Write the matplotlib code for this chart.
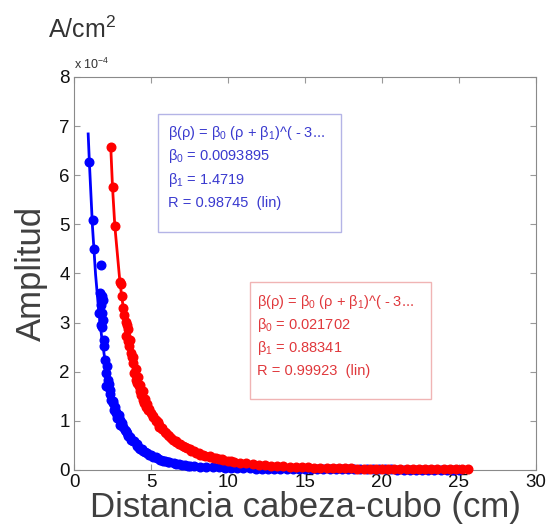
import matplotlib
matplotlib.use("Agg")
import matplotlib.pyplot as plt
from matplotlib.patches import Rectangle

plt.rcParams['font.family'] = ['Liberation Sans', 'DejaVu Sans']
plt.rcParams['mathtext.fontset'] = 'custom'
plt.rcParams['mathtext.rm'] = 'Liberation Sans'
plt.rcParams['mathtext.it'] = 'Liberation Sans:italic'
plt.rcParams['mathtext.default'] = 'regular'

## data (amplitude in units of 1e-4 A/cm^2)
blue_x = [0.99, 1.21, 1.27, 1.78, 1.69, 1.82, 1.86, 1.73, 1.65, 1.82, 1.86, 1.82, 1.76, 1.98,
          1.93, 2.04, 2.13, 2.09, 2.20, 2.09, 2.31, 2.42, 2.50, 2.64, 2.75, 2.85, 2.97, 3.10,
          3.30, 3.45, 3.63, 3.80, 4.07, 4.30, 4.50, 4.73, 5.00, 5.30, 5.60, 5.90, 6.20, 6.50,
          6.80, 7.20, 7.50, 7.80, 8.20, 8.60, 9.00, 9.40, 9.80, 10.2, 10.6, 11.0, 11.4, 11.8,
          12.2, 12.6, 13.0, 13.4, 13.8, 14.2, 14.6, 15.0, 15.4, 15.8, 16.2, 16.6, 17.0, 17.4,
          17.8, 18.2, 18.6, 19.0, 19.4, 19.8, 20.2, 20.6, 21.0, 21.4, 21.8, 22.2, 22.6, 23.0,
          23.4, 23.8, 24.2, 24.6, 25.0,
          2.25, 2.35, 2.55, 2.60, 2.70, 2.80, 2.90, 3.00, 3.20, 3.40, 3.50, 3.70, 3.90, 4.10,
          4.20, 4.40, 4.60, 4.90, 5.10, 5.40, 5.80, 6.10, 6.60, 7.00, 7.40]
blue_y = [6.27, 5.09, 4.50, 4.18, 3.61, 3.55, 3.47, 3.35, 3.20, 3.20, 3.06, 2.92, 2.96, 2.65,
          2.52, 2.24, 2.11, 1.97, 1.84, 1.70, 1.63, 1.43, 1.36, 1.29, 1.16, 1.09, 1.02, 0.95,
          0.82, 0.75, 0.68, 0.60, 0.48, 0.42, 0.38, 0.34, 0.31, 0.26, 0.20, 0.18, 0.16, 0.14,
          0.12, 0.11, 0.09, 0.08, 0.07, 0.065, 0.06, 0.055, 0.05, 0.045, 0.04, 0.04, 0.035, 0.03,
          0.03, 0.03, 0.025, 0.025, 0.02, 0.02, 0.02, 0.02, 0.015, 0.015, 0.015, 0.015, 0.01, 0.01,
          0.01, 0.01, 0.01, 0.01, 0.01, 0.01, 0.01, 0.01, 0.008, 0.008, 0.008, 0.008, 0.006, 0.006,
          0.006, 0.006, 0.005, 0.005, 0.005,
          1.75, 1.55, 1.40, 1.22, 1.18, 1.05, 1.12, 0.92, 0.88, 0.80, 0.70, 0.62, 0.58, 0.52,
          0.45, 0.42, 0.36, 0.30, 0.27, 0.24, 0.19, 0.17, 0.13, 0.10, 0.09]
blue_fit_x = [0.92, 1.0, 1.2, 1.4, 1.6, 1.8, 2.0, 2.3, 2.6, 3.0, 3.5, 4.0, 5.0, 6.0, 7.0, 8.0,
              10.0, 12.0, 15.0, 20.0, 25.0]
blue_fit_y = [6.84, 6.25, 4.95, 3.98, 3.26, 2.70, 2.26, 1.76, 1.40, 1.06, 0.77, 0.58, 0.35, 0.23,
              0.155, 0.11, 0.062, 0.038, 0.021, 0.0095, 0.005]

red_x = [2.40, 2.50, 2.65, 2.98, 3.02, 3.26, 3.37, 3.48, 3.37, 3.51, 3.59, 3.70, 3.76, 3.81,
         3.92, 4.02, 4.10, 4.19, 4.28, 4.35, 4.45, 4.57, 4.68, 4.80, 4.99, 5.14, 5.32, 5.44,
         5.54, 5.74, 5.97, 6.18, 6.41, 6.62, 6.82, 7.06, 7.32, 7.62, 7.91, 8.2, 8.5, 8.8,
         9.1, 9.4, 9.7, 10.0, 10.4, 10.8, 11.2, 11.6, 12.0, 12.4, 12.8, 13.2, 13.6, 14.0,
         14.4, 14.8, 15.2, 15.6, 16.0, 16.4, 16.8, 17.2, 17.6, 18.0, 18.4, 18.8, 19.2, 19.6,
         20.0, 20.4, 20.8, 21.2, 21.6, 22.0, 22.4, 22.8, 23.2, 23.6, 24.0, 24.4, 24.8, 25.2,
         25.6,
         3.10, 3.20, 3.45, 3.65, 3.85, 4.00, 4.15, 4.30, 4.45, 4.60, 4.75, 4.90, 5.10, 5.30,
         5.50, 5.70, 5.90, 6.10, 6.30, 6.60, 6.90, 7.20, 7.50, 7.80, 8.10, 8.40, 8.80, 9.20,
         9.60, 10.2]
red_y = [6.58, 5.76, 4.97, 3.83, 3.78, 3.16, 3.01, 2.86, 2.72, 2.62, 2.52, 2.38, 2.30, 2.18,
         1.97, 1.84, 1.78, 1.70, 1.60, 1.53, 1.43, 1.36, 1.29, 1.22, 1.16, 1.08, 1.02, 0.97,
         0.88, 0.83, 0.75, 0.69, 0.61, 0.57, 0.52, 0.48, 0.44, 0.39, 0.34, 0.31, 0.28, 0.26,
         0.24, 0.22, 0.20, 0.18, 0.17, 0.15, 0.14, 0.12, 0.11, 0.10, 0.09, 0.085, 0.08, 0.07,
         0.065, 0.06, 0.055, 0.05, 0.045, 0.045, 0.04, 0.04, 0.035, 0.035, 0.03, 0.03, 0.03, 0.025,
         0.025, 0.025, 0.02, 0.02, 0.02, 0.03, 0.02, 0.015, 0.015, 0.015, 0.015, 0.012, 0.012, 0.01,
         0.01,
         3.55, 3.30, 2.95, 2.65, 2.30, 2.05, 1.90, 1.72, 1.60, 1.45, 1.35, 1.25, 1.10, 1.00,
         0.92, 0.85, 0.78, 0.72, 0.66, 0.58, 0.52, 0.46, 0.42, 0.38, 0.34, 0.31, 0.28, 0.25,
         0.22, 0.19]
red_fit_x = [2.38, 2.50, 2.65, 2.98, 3.3, 3.6, 4.0, 4.5, 5.0, 5.5, 6.0, 7.0, 8.0, 9.0, 10.0,
             12.0, 14.0, 16.0, 18.0, 20.0, 22.0, 25.6]
red_fit_y = [6.62, 5.76, 4.97, 3.83, 3.05, 2.50, 1.96, 1.48, 1.13, 0.88, 0.70, 0.46, 0.32, 0.23,
             0.17, 0.10, 0.066, 0.045, 0.032, 0.024, 0.018, 0.012]

blue_lines = [r'$\beta(\rho)$ = $\beta_0$ ($\rho$ + $\beta_1$)^( - 3...',
              r'$\beta_0$ = 0.0093895', r'$\beta_1$ = 1.4719', 'R = 0.98745  (lin)']
red_lines = [r'$\beta(\rho)$ = $\beta_0$ ($\rho$ + $\beta_1$)^( - 3...',
             r'$\beta_0$ = 0.021702', r'$\beta_1$ = 0.88341', 'R = 0.99923  (lin)']

fig = plt.figure(figsize=(5.49, 5.31), dpi=100)
ax = fig.add_axes([0.1348, 0.1149, 0.8415, 0.7402])

ax.plot(blue_fit_x, blue_fit_y, color='#0000ff', lw=2, zorder=2)
ax.plot(blue_x, blue_y, 'o', color='#0000ff', ms=6.2, mec='#0000ff', clip_on=False, zorder=3)
ax.plot(red_fit_x, red_fit_y, color='#ff0000', lw=2, zorder=4)
ax.plot(red_x, red_y, 'o', color='#ff0000', ms=6.2, mec='#ff0000', clip_on=False, zorder=5)

ax.set_xlim(0, 30)
ax.set_ylim(0, 8)
ax.set_xticks([0, 5, 10, 15, 20, 25, 30])
ax.set_yticks([0, 1, 2, 3, 4, 5, 6, 7, 8])
ax.tick_params(direction='in', top=True, right=True, length=4, color='#999999',
               labelsize=13.5, labelcolor='#111111', pad=3)
for s in ax.spines.values():
    s.set_color('#8a8a8a')

ax.set_xlabel('Distancia cabeza-cubo (cm)', fontsize=25, color='#404040', labelpad=0)
ax.set_ylabel('Amplitud', fontsize=25, color='#404040', labelpad=8)

fig.text(0.088, 0.943, r'A/cm$^2$', fontsize=18, color='#333333', va='center')
ax.text(0.0, 1.012, r'x 10$^{-4}$', transform=ax.transAxes, fontsize=9, color='#333333',
        va='bottom')

## fit boxes
ax.add_patch(Rectangle((0.182, 0.606), 0.396, 0.300, transform=ax.transAxes,
                       fill=True, fc='white', ec='#b4b4e6', lw=1, zorder=6))
for i, t in enumerate(blue_lines):
    ax.text(0.203, 0.847 - i * 0.0595, t, transform=ax.transAxes, fontsize=10.5,
            color='#3a3acf', va='baseline', zorder=7)

ax.add_patch(Rectangle((0.381, 0.181), 0.392, 0.297, transform=ax.transAxes,
                       fill=True, fc='white', ec='#f0b4b4', lw=1, zorder=6))
for i, t in enumerate(red_lines):
    ax.text(0.396, 0.417 - i * 0.0585, t, transform=ax.transAxes, fontsize=10.5,
            color='#e0383c', va='baseline', zorder=7)

fig.savefig('out.png', dpi=100)
